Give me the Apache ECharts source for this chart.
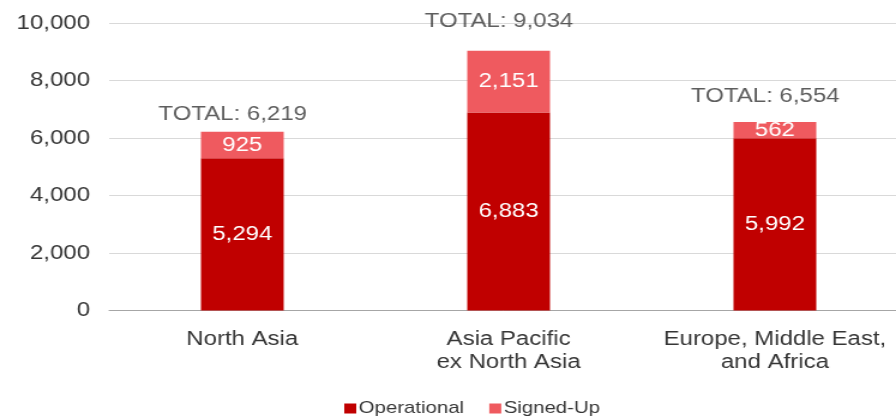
<!DOCTYPE html>
<html>
<head>
<meta charset="utf-8">
<script src="https://cdn.jsdelivr.net/npm/echarts@6/dist/echarts.min.js"></script>
<style>
  html, body { margin: 0; padding: 0; background: #fff; overflow: hidden; }
  /* the chart is drawn narrower and widened horizontally to the page width */
  #chart { width: 747px; height: 418px; transform: scaleX(1.1995); transform-origin: 0 0; }
</style>
</head>
<body>
<div id="chart"></div>
<script>
const categories = ['North Asia', 'Asia Pacific\nex North Asia', 'Europe, Middle East,\nand Africa'];
const operational = [5294, 6883, 5992];
const signedUp = [925, 2151, 562];
const totals = [6219, 9034, 6554];
const yTicks = { min: 0, max: 10000, interval: 2000 };

const fmt = v => Number(v).toLocaleString('en-US');
const font = '"Liberation Sans", Arial, sans-serif';
const textColor = '#363636';

// where each total caption sits relative to the top of its stack
const totalOffsets = [[-8, -17], [-8, -29], [-8, -26]];

const chart = echarts.init(document.getElementById('chart'), null, { renderer: 'canvas' });

chart.setOption({
  animation: false,
  textStyle: { fontFamily: font },
  // plot area runs a little past the right edge of the page
  grid: { left: 91, width: 666, top: 23, bottom: 107.5, containLabel: false, outerBoundsMode: 'none' },
  legend: {
    data: ['Operational', 'Signed-Up'],
    left: 282, top: 395,
    itemWidth: 10, itemHeight: 10, itemGap: 21,
    icon: 'rect',
    textStyle: { fontSize: 17, color: textColor, fontFamily: font, padding: [0, 0, 0, -3] }
  },
  xAxis: {
    type: 'category',
    data: categories,
    axisLine: { lineStyle: { color: '#a6a6a6', width: 1 } },
    axisTick: { show: false },
    axisLabel: { interval: 0, fontSize: 20, lineHeight: 23, color: textColor, margin: 17, fontFamily: font }
  },
  yAxis: {
    type: 'value',
    min: yTicks.min, max: yTicks.max, interval: yTicks.interval,
    axisLine: { show: false },
    axisTick: { show: false },
    splitLine: { lineStyle: { color: '#d9d9d9', width: 1 } },
    axisLabel: { fontSize: 20, color: textColor, margin: 16, formatter: v => fmt(v), fontFamily: font }
  },
  series: [
    {
      name: 'Operational', type: 'bar', stack: 'total', barWidth: 69,
      itemStyle: { color: '#C00000' },
      label: { show: true, position: 'inside', color: '#fff', fontSize: 20, formatter: p => fmt(p.value), fontFamily: font },
      data: operational
    },
    {
      name: 'Signed-Up', type: 'bar', stack: 'total', barWidth: 69,
      itemStyle: { color: '#EF5A5F' },
      label: { show: true, position: 'inside', color: '#fff', fontSize: 20, formatter: p => fmt(p.value), fontFamily: font },
      data: signedUp
    },
    {
      name: 'Total', type: 'scatter', symbolSize: 0, silent: true,
      label: { show: true, position: 'inside', color: textColor, fontSize: 20, fontFamily: font,
               formatter: p => 'TOTAL: ' + fmt(p.value) },
      data: totals.map((v, i) => ({ value: v, label: { offset: totalOffsets[i] } }))
    }
  ]
});
</script>
</body>
</html>
